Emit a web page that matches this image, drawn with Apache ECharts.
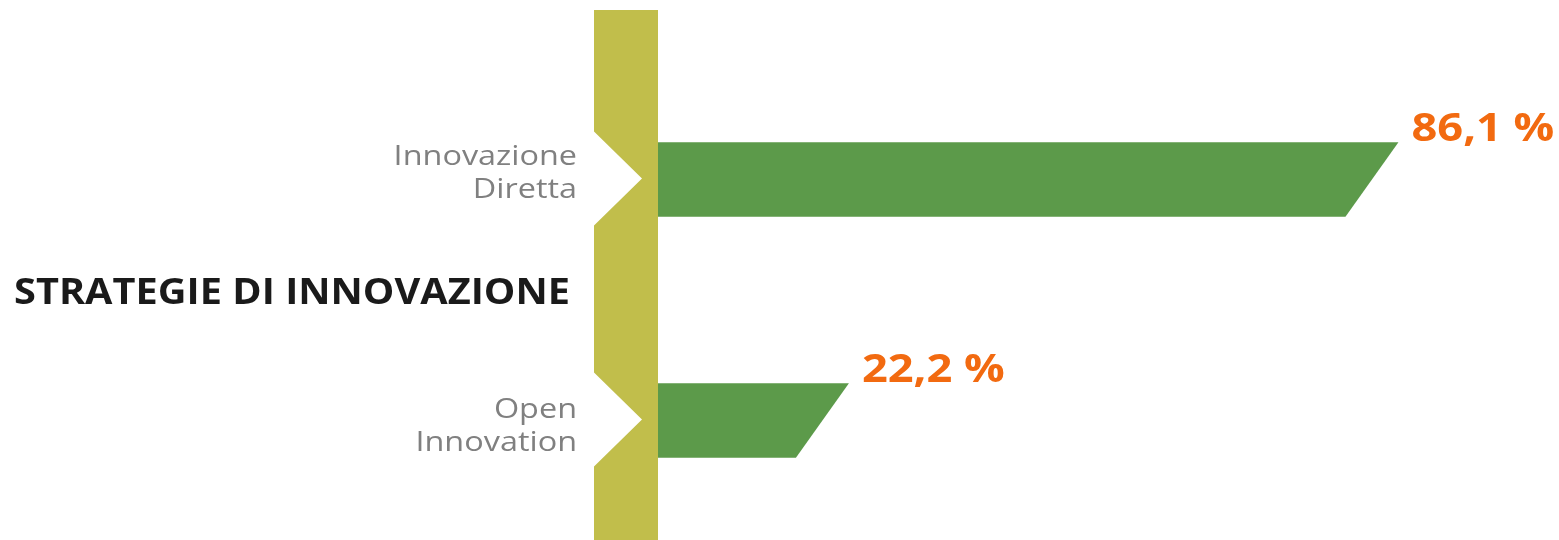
<!DOCTYPE html>
<html>
<head>
    <meta charset="utf-8">
    <title>Strategie di innovazione</title>
    <style>
        html, body { margin: 0; padding: 0; background: #fff; }
        #chart { width: 1559px; height: 540px; }
    </style>
</head>
<body>
    <div id="chart"></div>
    <script src="https://cdn.jsdelivr.net/npm/echarts@6/dist/echarts.min.js"></script>
    <script type="text/javascript">
        // dati
        var categories = ['Innovazione\nDiretta', 'Open\nInnovation'];
        var values = [86.1, 22.2];
        var valueLabels = ['86,1 %', '22,2 %'];

        var myChart = echarts.init(document.getElementById('chart'));

        // colonna verde oliva con le frecce
        function renderSpine(params, api) {
            var cs = params.coordSys;
            var x1 = api.coord([0, 0])[0];
            var x0 = x1 - 64;
            var band = api.size([0, 1])[1];
            var notchH = band * 0.39;
            var pts = [[x0, cs.y - 48]];
            for (var i = 0; i < categories.length; i++) {
                var cy = api.coord([0, i])[1];
                pts.push([x0, cy - notchH / 2]);
                pts.push([x1 - 16, cy]);
                pts.push([x0, cy + notchH / 2]);
            }
            pts.push([x0, cs.y + cs.height + 10]);
            pts.push([x1, cs.y + cs.height + 10]);
            pts.push([x1, cs.y - 48]);
            return {
                type: 'polygon',
                shape: { points: pts },
                style: { fill: '#c1be4b' }
            };
        }

        // piccolo spostamento verticale delle etichette di categoria
        var catLabelDy = [-5, 7];

        // barre con estremita inclinata + etichette
        function renderBar(params, api) {
            var cat = api.value(0);
            var val = api.value(1);
            var start = api.coord([0, cat]);
            var end = api.coord([val, cat]);
            var h = api.size([0, 1])[1] * 0.31;
            var slant = 53;
            var top = start[1] - h / 2;
            var bottom = start[1] + h / 2;
            return {
                type: 'group',
                children: [
                    {
                        type: 'polygon',
                        shape: {
                            points: [
                                [start[0], top + 1],
                                [end[0], top + 1],
                                [end[0] - slant, bottom + 1],
                                [start[0], bottom + 1]
                            ]
                        },
                        style: { fill: '#5c9a4a' }
                    },
                    {
                        type: 'text',
                        x: end[0] + 13,
                        y: top + 8,
                        scaleX: 1.13,
                        style: {
                            text: valueLabels[params.dataIndex],
                            fill: '#f26a10',
                            font: 'bold 40px "Open Sans"',
                            textAlign: 'left',
                            textVerticalAlign: 'bottom'
                        }
                    },
                    {
                        type: 'text',
                        x: start[0] - 81,
                        y: start[1] + catLabelDy[params.dataIndex],
                        scaleX: 1.2,
                        style: {
                            text: categories[cat],
                            fill: '#808080',
                            font: '27px "Open Sans"',
                            lineHeight: 33,
                            textAlign: 'right',
                            textVerticalAlign: 'middle'
                        }
                    }
                ]
            };
        }

        var option = {
            backgroundColor: '#ffffff',
            animation: false,
            graphic: [
                {
                    type: 'text',
                    x: 14,
                    y: 294,
                    scaleX: 1.135,
                    style: {
                        text: 'STRATEGIE DI INNOVAZIONE',
                        fill: '#1a1a1a',
                        font: 'bold 35px "Open Sans"',
                        textAlign: 'left',
                        textVerticalAlign: 'middle'
                    }
                }
            ],
            grid: {
                left: 658,
                right: 41,
                top: 58,
                bottom: -8
            },
            xAxis: {
                type: 'value',
                min: 0,
                max: 100,
                show: false
            },
            yAxis: {
                type: 'category',
                data: categories,
                inverse: true,
                axisLine: { show: false },
                axisTick: { show: false },
                splitLine: { show: false },
                axisLabel: { show: false }
            },
            series: [
                {
                    name: 'spine',
                    type: 'custom',
                    renderItem: renderSpine,
                    data: [[0, 0]],
                    silent: true,
                    clip: false
                },
                {
                    name: 'valori',
                    type: 'custom',
                    renderItem: renderBar,
                    data: values.map(function (v, i) { return [i, v]; }),
                    encode: { y: 0, x: 1 },
                    clip: false
                }
            ]
        };
        myChart.setOption(option);
    </script>
</body>
</html>
